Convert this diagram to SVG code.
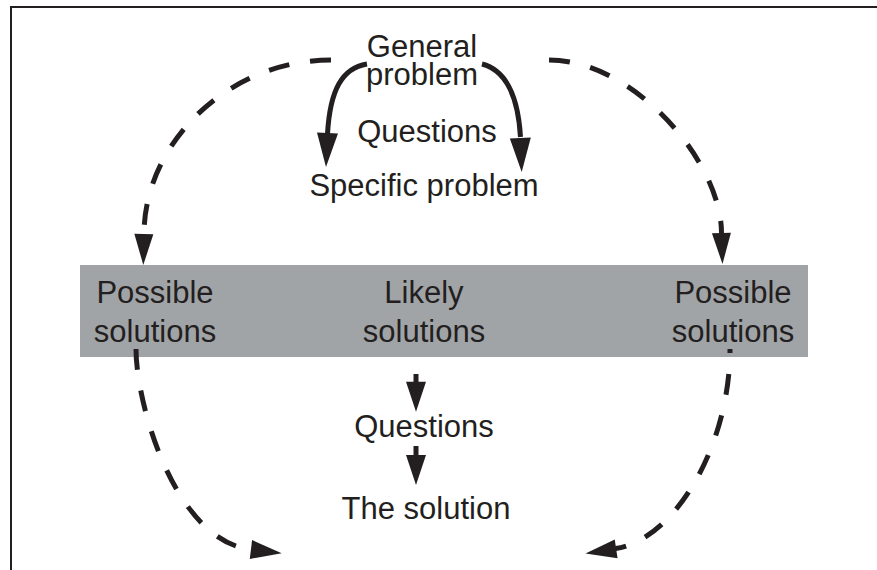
<svg xmlns="http://www.w3.org/2000/svg" xmlns:xlink="http://www.w3.org/1999/xlink" width="877" height="570" viewBox="0 0 877 570">
  <style>
    .lbl { font-family: "Liberation Sans", Arial, sans-serif; font-size: 31px; fill: #231f20; text-anchor: middle; }
    .solid { fill: none; stroke: #231f20; stroke-width: 5; }
    .dash { fill: none; stroke: #231f20; stroke-width: 5; stroke-dasharray: 21 21; }
    .head { fill: #231f20; }
  </style>
  <defs>
    <!-- arrowheads point along +x with the tip at the origin -->
    <path id="head-big" d="M0,0 L-34,-10.5 L-34,10.5 Z"/>
    <path id="head-dash" d="M0,0 L-31,-9.5 L-31,9.5 Z"/>
    <path id="head-mid" d="M0,0 L-30,-10 L-30,10 Z"/>
  </defs>

  <rect width="877" height="570" fill="#ffffff"/>

  <!-- frame: top and left edges only -->
  <path d="M11,570 L11,7 L877,7" fill="none" stroke="#231f20" stroke-width="2"/>

  <!-- grey band holding the solution stages -->
  <rect id="band" x="80" y="265" width="728" height="92" fill="#a1a4a7"/>

  <g id="general-problem">
    <text class="lbl" x="422" y="57">General</text>
    <text class="lbl" x="422" y="85">problem</text>
  </g>
  <g id="questions-top">
    <text class="lbl" x="427" y="142">Questions</text>
  </g>
  <g id="specific-problem">
    <text class="lbl" x="424" y="196">Specific problem</text>
  </g>
  <g id="possible-left">
    <text class="lbl" x="155" y="303">Possible</text>
    <text class="lbl" x="155" y="342">solutions</text>
  </g>
  <g id="likely">
    <text class="lbl" x="424" y="303">Likely</text>
    <text class="lbl" x="424" y="342">solutions</text>
  </g>
  <g id="possible-right">
    <text class="lbl" x="733" y="303">Possible</text>
    <text class="lbl" x="733" y="342">solutions</text>
  </g>
  <g id="questions-bottom">
    <text class="lbl" x="424" y="437">Questions</text>
  </g>
  <g id="the-solution">
    <text class="lbl" x="426" y="519">The solution</text>
  </g>

  <g id="connectors">
    <!-- general problem to specific problem -->
    <path class="solid" d="M367,64 C342,68 330,90 327.5,134"/>
    <use xlink:href="#head-big" class="head" transform="translate(326,167) rotate(92.5)"/>
    <path class="solid" d="M482,64 C505,70 518,95 520.5,137"/>
    <use xlink:href="#head-big" class="head" transform="translate(521.7,172) rotate(87.7)"/>

    <!-- outer dashed loop -->
    <path class="dash" d="M331,60 C229,60 145,142 144,233"/>
    <use xlink:href="#head-dash" class="head" transform="translate(143.3,265) rotate(91)"/>
    <path class="dash" d="M549,60 C634,60 721.5,162 721.5,233"/>
    <use xlink:href="#head-dash" class="head" transform="translate(722.5,264) rotate(88)"/>
    <path class="dash" d="M136,349 C136,404 175,541 251,549.5"/>
    <use xlink:href="#head-dash" class="head" transform="translate(281.7,553.3) rotate(7)"/>
    <path class="dash" style="stroke-dashoffset:17" d="M730,349 C730,445 675.5,539.5 615.5,548.5"/>
    <use xlink:href="#head-dash" class="head" transform="translate(585.5,553.5) rotate(171.5)"/>

    <!-- likely solutions to questions to the solution -->
    <path class="solid" d="M416,374 L416,384"/>
    <use xlink:href="#head-mid" class="head" transform="translate(416,411.7) rotate(90)"/>
    <path class="solid" d="M416,446 L416,457"/>
    <use xlink:href="#head-mid" class="head" transform="translate(416,485) rotate(90)"/>
  </g>
</svg>
